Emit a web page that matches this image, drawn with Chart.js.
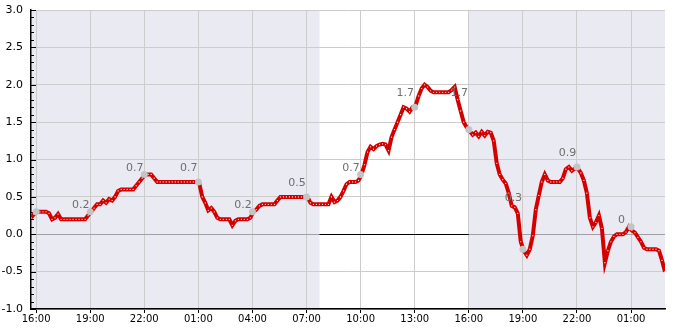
<!DOCTYPE html>
<html>
<head>
<meta charset="utf-8">
<script src="https://cdn.jsdelivr.net/npm/chart.js@4"></script>
<style>
  html, body { margin:0; padding:0; background:#fff; }
  canvas { display:block; }
</style>
</head>
<body>
<canvas id="c" width="685" height="330"></canvas>
<script>
// x is hours since 16:00 on day one; series starts 15:43, one reading every 10 min
const startHour = -17/60;
const stepHour = 10/60;

const values = [
  0.22, 0.27,
  0.3, 0.3, 0.3, 0.3, 0.28, 0.2,        // 16h
  0.22, 0.27, 0.2, 0.2, 0.2, 0.2,       // 17h
  0.2, 0.2, 0.2, 0.2, 0.2, 0.25,        // 18h
  0.3, 0.35, 0.4, 0.4, 0.45, 0.42,      // 19h
  0.47, 0.45, 0.5, 0.58, 0.6, 0.6,      // 20h
  0.6, 0.6, 0.6, 0.65, 0.7, 0.75,       // 21h
  0.8, 0.8, 0.8, 0.75, 0.7, 0.7,        // 22h
  0.7, 0.7, 0.7, 0.7, 0.7, 0.7,         // 23h
  0.7, 0.7, 0.7, 0.7, 0.7, 0.7,         // 00h
  0.68, 0.5, 0.42, 0.32, 0.35, 0.3,     // 01h
  0.22, 0.2, 0.2, 0.2, 0.2, 0.12,       // 02h
  0.18, 0.2, 0.2, 0.2, 0.2, 0.22,       // 03h
  0.3, 0.33, 0.38, 0.4, 0.4, 0.4,       // 04h
  0.4, 0.4, 0.45, 0.5, 0.5, 0.5,        // 05h
  0.5, 0.5, 0.5, 0.5, 0.5, 0.5,         // 06h
  0.5, 0.42, 0.4, 0.4, 0.4, 0.4,        // 07h
  0.4, 0.4, 0.5, 0.43, 0.45, 0.5,       // 08h
  0.58, 0.67, 0.7, 0.7, 0.7, 0.72,      // 09h
  0.8, 0.93, 1.1, 1.17, 1.14, 1.18,     // 10h
  1.2, 1.21, 1.2, 1.12, 1.3, 1.4,       // 11h
  1.5, 1.6, 1.7, 1.68, 1.64, 1.7,       // 12h
  1.72, 1.85, 1.95, 2.0, 1.97, 1.92,    // 13h
  1.9, 1.9, 1.9, 1.9, 1.9, 1.9,         // 14h
  1.93, 1.97, 1.8, 1.65, 1.5, 1.43,     // 15h
  1.38, 1.33, 1.36, 1.31, 1.37, 1.32,   // 16h
  1.37, 1.36, 1.25, 0.95, 0.8, 0.73,    // 17h
  0.68, 0.55, 0.38, 0.36, 0.28, -0.1,   // 18h
  -0.22, -0.28, -0.2, -0.02, 0.33, 0.52,// 19h
  0.7, 0.8, 0.72, 0.7, 0.7, 0.7,        // 20h
  0.7, 0.75, 0.87, 0.9, 0.85, 0.88,     // 21h
  0.88, 0.82, 0.72, 0.55, 0.22, 0.1,    // 22h
  0.16, 0.25, 0.08, -0.38, -0.22, -0.1, // 23h
  -0.03, 0, 0, 0, 0.03, 0.1,            // 00h
  0.05, 0.02, -0.04, -0.1, -0.18, -0.2, // 01h
  -0.2, -0.2, -0.2, -0.22, -0.35, -0.5  // 02h
];

// marked points every 3 hours, with the text shown next to them
const markHours  = [0, 3, 6, 9, 12, 15, 18, 21, 24, 27, 30, 33];
const markValues = [0.3, 0.3, 0.8, 0.7, 0.3, 0.5, 0.8, 1.7, 1.4, -0.2, 0.9, 0.1];
const markLabels = [null, 0.2, 0.7, 0.7, 0.2, 0.5, 0.7, 1.7, 1.7, 0.3, 0.9, 0];

const xTicks = [0, 3, 6, 9, 12, 15, 18, 21, 24, 27, 30, 33];
const yTicks = [-1, -0.5, 0, 0.5, 1, 1.5, 2, 2.5, 3];
// shaded spans (hours since 16:00)
const shadeFrom = [startHour, 24];
const shadeTo   = [15 + 43/60, startHour + stepHour*(values.length-1)];

const hourLabel = v => String(((16 + v) % 24 + 24) % 24).padStart(2, "0") + ":00";

const lineData = values.map((v, i) => ({x: startHour + i*stepHour, y: v}));
const markData = markHours.map((h, i) => ({x: h, y: markValues[i]}));

const bgPlugin = {
  id: "bg",
  beforeDraw(chart){
    const {ctx, chartArea:a, scales:{x}} = chart;
    ctx.save();
    ctx.fillStyle = "#fff";
    ctx.fillRect(a.left, a.top, a.right-a.left, a.bottom-a.top);
    ctx.fillStyle = "#eaeaf2";
    shadeFrom.forEach((s, i) => {
      const x0 = Math.max(a.left, x.getPixelForValue(s));
      const x1 = Math.min(a.right, x.getPixelForValue(shadeTo[i]));
      ctx.fillRect(x0, a.top, x1-x0, a.bottom-a.top);
    });
    ctx.restore();
  },
  beforeDatasetsDraw(chart){
    const {ctx, chartArea:a, scales:{x, y}} = chart;
    const y0 = Math.round(y.getPixelForValue(0)) + 0.5;
    ctx.save();
    ctx.lineWidth = 1;
    // zero line: gray over the shaded spans, black in between
    ctx.strokeStyle = "#a0a0a6";
    ctx.beginPath(); ctx.moveTo(a.left, y0); ctx.lineTo(a.right, y0); ctx.stroke();
    ctx.strokeStyle = "#000";
    ctx.beginPath();
    ctx.moveTo(x.getPixelForValue(shadeTo[0]), y0);
    ctx.lineTo(x.getPixelForValue(shadeFrom[1]), y0);
    ctx.stroke();
    // inward y ticks, minor every 0.1
    for(let k = -10; k <= 30; k++){
      const py = Math.round(y.getPixelForValue(k/10)) + 0.5;
      const len = k % 5 === 0 ? 5 : 3;
      ctx.beginPath(); ctx.moveTo(a.left, py); ctx.lineTo(a.left+len, py); ctx.stroke();
    }
    ctx.restore();
  },
  afterDatasetsDraw(chart){
    const {ctx, chartArea:a, scales:{x, y}} = chart;
    ctx.save();
    ctx.beginPath(); ctx.rect(a.left, a.top, a.right-a.left, a.bottom-a.top); ctx.clip();
    ctx.fillStyle = "#6e6e6e";
    ctx.font = "11px 'DejaVu Sans'";
    ctx.textAlign = "center";
    ctx.textBaseline = "alphabetic";
    markLabels.forEach((lab, i) => {
      if(lab === null) return;
      ctx.fillText(String(lab), x.getPixelForValue(markHours[i]) - 9.5, y.getPixelForValue(lab) - 11);
    });
    ctx.restore();
  }
};

new Chart(document.getElementById("c"), {
  type: "line",
  data: {
    datasets: [
      {
        data: markData,
        showLine: false,
        pointRadius: 3.5,
        pointBorderWidth: 0,
        pointBackgroundColor: "#c4c4c4",
        order: 1
      },
      {
        data: lineData,
        borderColor: "#d40000",
        borderWidth: 4,
        tension: 0,
        pointRadius: 0.6,
        pointBorderWidth: 0,
        pointBackgroundColor: "#ffffff",
        order: 2
      }
    ]
  },
  options: {
    responsive: false,
    animation: false,
    events: [],
    layout: { padding: { top: 10, right: 20, left: 0, bottom: 0 } },
    plugins: { legend: { display: false }, tooltip: { enabled: false } },
    scales: {
      x: {
        type: "linear",
        min: startHour,
        max: startHour + stepHour*(values.length-1),
        afterBuildTicks: s => { s.ticks = xTicks.map(v => ({value: v})); },
        afterFit: s => { s.height = 21; s.paddingLeft = 0; s.paddingRight = 0; },
        grid: { color: "#cccccc", lineWidth: 1, drawTicks: true, tickLength: 4, tickColor: "#000" },
        border: { color: "#000", width: 1.5 },
        ticks: { callback: v => hourLabel(v), color: "#000", padding: 0, maxRotation: 0,
                 font: { family: "DejaVu Sans", size: 10 } }
      },
      y: {
        min: -1,
        max: 3,
        afterBuildTicks: s => { s.ticks = yTicks.map(v => ({value: v})); },
        afterFit: s => { s.width = 31; s.paddingTop = 0; s.paddingBottom = 0; },
        grid: { color: "#cccccc", lineWidth: 1, drawTicks: false },
        border: { color: "#000", width: 1.5 },
        ticks: { callback: v => v.toFixed(1), color: "#000", padding: 8,
                 font: { family: "DejaVu Sans", size: 11 } }
      }
    }
  },
  plugins: [bgPlugin]
});
</script>
</body>
</html>
